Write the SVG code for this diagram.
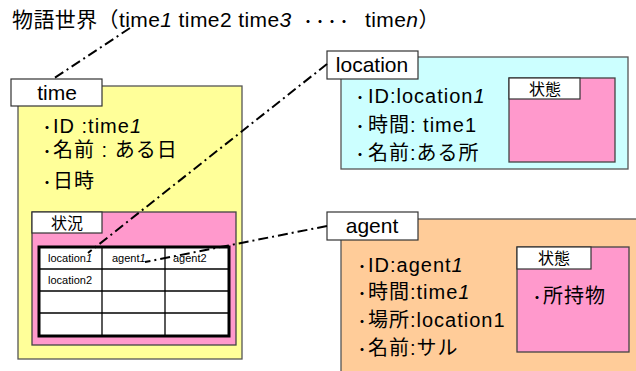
<svg xmlns="http://www.w3.org/2000/svg" width="636" height="371" viewBox="0 0 636 371">
<style>
text{font-family:"Liberation Sans","Noto Sans CJK JP",sans-serif;fill:#000}
.t{font-size:21px}
.tt{font-size:21px;letter-spacing:0.4px}
.b{font-size:20px;letter-spacing:1px}
.d{font-size:12px;letter-spacing:0;font-weight:bold}
.s{font-size:16px}
.c{font-size:11px}
.box{stroke:#555;stroke-width:1.3}
.lbl{fill:#fff;stroke:#333;stroke-width:1.2}
.pk{fill:#FF99CC;stroke:#444;stroke-width:1.3}
.conn{fill:none;stroke:#000;stroke-width:2;stroke-dasharray:10 4 2 4}
</style>
<rect width="636" height="371" fill="#fff"/>
<g id="title">
<text class="tt" x="12" y="27">物語世界（time<tspan font-style="italic">1</tspan> time2 time<tspan font-style="italic">3</tspan></text>
<text class="d" x="302" y="27">・<tspan x="314">・</tspan><tspan x="326">・</tspan><tspan x="338">・</tspan></text>
<text class="tt" x="365" y="27">time<tspan font-style="italic">n</tspan>）</text>
</g>
<g id="time">
<rect class="box" x="18" y="86" width="224" height="273" fill="#FFFF99"/>
<rect class="lbl" x="11" y="79" width="91" height="27"/>
<text class="t" x="57" y="100" text-anchor="middle">time</text>
<text class="b" y="133"><tspan class="d" x="41">・</tspan><tspan x="53">ID :time</tspan><tspan font-style="italic">1</tspan></text>
<text class="b" y="157"><tspan class="d" x="41">・</tspan><tspan x="53">名前 : ある日</tspan></text>
<text class="b" y="188"><tspan class="d" x="41">・</tspan><tspan x="53">日時</tspan></text>
</g>
<g id="situation">
<rect class="pk" x="32" y="212" width="204" height="133"/>
<rect class="lbl" x="32" y="212" width="70" height="21"/>
<text class="s" x="67" y="229" text-anchor="middle">状況</text>
<rect x="39" y="247" width="190" height="89" fill="#fff" stroke="#000" stroke-width="3"/>
<g stroke="#000" stroke-width="1.3">
<line x1="102" y1="247" x2="102" y2="336"/>
<line x1="165" y1="247" x2="165" y2="336"/>
<line x1="39" y1="269" x2="229" y2="269"/>
<line x1="39" y1="291" x2="229" y2="291"/>
<line x1="39" y1="313" x2="229" y2="313"/>
</g>
<text class="c" x="48" y="262">location<tspan font-style="italic">1</tspan></text>
<text class="c" x="112" y="262">agent<tspan font-style="italic">1</tspan></text>
<text class="c" x="173" y="262">agent2</text>
<text class="c" x="48" y="284">location2</text>
</g>
<g id="location">
<rect class="box" x="341" y="57" width="287" height="112" fill="#CCFFFF"/>
<rect class="lbl" x="327" y="51" width="91" height="28"/>
<text class="t" x="372" y="72" text-anchor="middle">location</text>
<text class="b" y="103"><tspan class="d" x="354">・</tspan><tspan x="368">ID:location</tspan><tspan font-style="italic">1</tspan></text>
<text class="b" y="132"><tspan class="d" x="354">・</tspan><tspan x="368">時間: time1</tspan></text>
<text class="b" y="160"><tspan class="d" x="354">・</tspan><tspan x="368">名前:ある所</tspan></text>
<rect class="pk" x="509" y="78" width="106" height="84"/>
<rect class="lbl" x="509" y="78" width="71" height="21"/>
<text class="s" x="545" y="95" text-anchor="middle">状態</text>
</g>
<g id="agent">
<rect class="box" x="341" y="219" width="300" height="160" fill="#FFCC99"/>
<rect class="lbl" x="327" y="212" width="91" height="28"/>
<text class="t" x="372" y="233" text-anchor="middle">agent</text>
<text class="b" y="272"><tspan class="d" x="356">・</tspan><tspan x="368">ID:agent</tspan><tspan font-style="italic">1</tspan></text>
<text class="b" y="299"><tspan class="d" x="356">・</tspan><tspan x="368">時間:time</tspan><tspan font-style="italic">1</tspan></text>
<text class="b" y="327"><tspan class="d" x="356">・</tspan><tspan x="368">場所:location1</tspan></text>
<text class="b" y="355"><tspan class="d" x="356">・</tspan><tspan x="368">名前:サル</tspan></text>
<rect class="pk" x="517" y="247" width="112" height="105"/>
<rect class="lbl" x="517" y="247" width="74" height="22"/>
<text class="s" x="554" y="264" text-anchor="middle">状態</text>
<text class="b" y="303"><tspan class="d" x="531">・</tspan><tspan x="543">所持物</tspan></text>
</g>
<g id="connectors">
<line class="conn" x1="130" y1="28" x2="53" y2="79"/>
<line class="conn" x1="327" y1="64" x2="88" y2="253"/>
<line class="conn" x1="327" y1="226" x2="145" y2="262"/>
</g>
</svg>
